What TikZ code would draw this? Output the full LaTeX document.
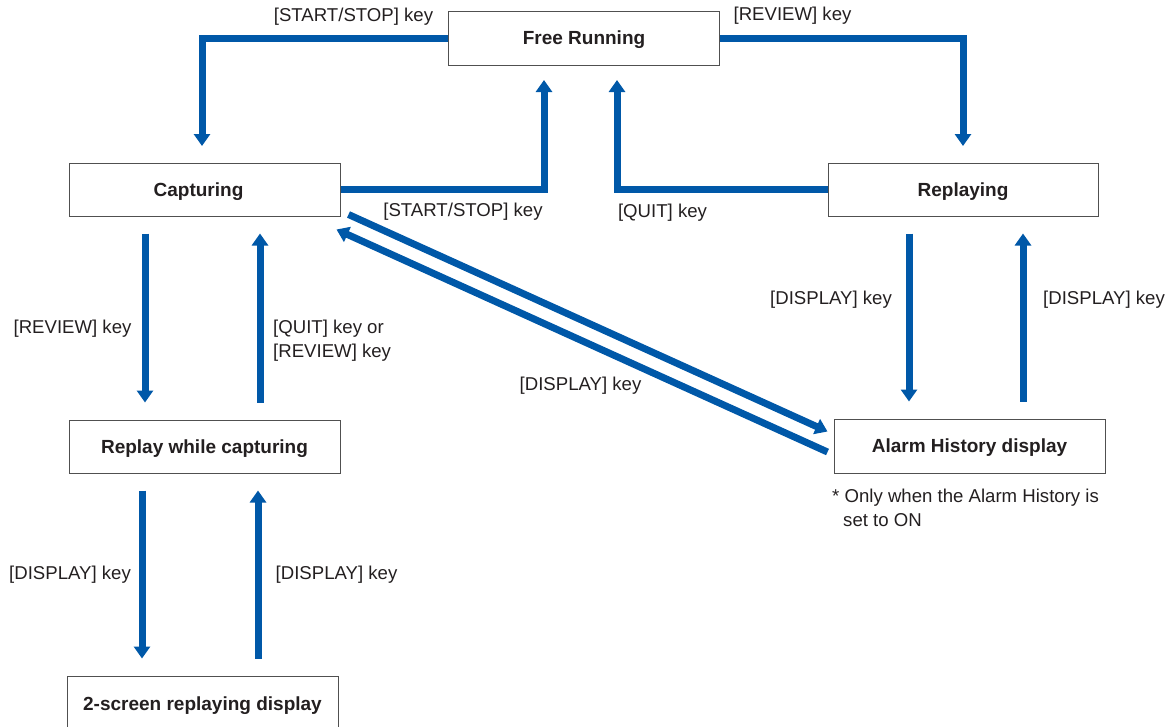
\documentclass[tikz,border=0pt]{standalone}
\usepackage{fontspec}
\setmainfont{Liberation Sans}
\usetikzlibrary{arrows.meta}
\definecolor{flowblue}{RGB}{0,88,168}
\definecolor{txt}{RGB}{35,31,32}
\definecolor{boxline}{RGB}{80,80,80}
\begin{document}
\begin{tikzpicture}[x=1pt,y=-1pt,
  state/.style={draw=boxline,line width=1pt,fill=white,minimum width=271pt,minimum height=54pt,
    inner sep=0pt,text height=16.6pt,text depth=3pt,text=txt,font=\fontsize{19}{22}\selectfont\bfseries},
  lbl/.style={inner sep=0pt,text=txt,font=\fontsize{18.6}{24}\selectfont},
  arr/.style={draw=flowblue,line width=7pt,-{Triangle[width=16pt,length=12pt]}}]
\useasboundingbox (0,0) rectangle (1174,726);
% states
\node[state] (free)  at (584,38)     {Free Running};
\node[state,minimum height=53pt] (cap)   at (204.5,189.5) {\hspace*{-12pt}Capturing};
\node[state,minimum height=53pt,minimum width=270pt] (rep)   at (963,189.5)   {Replaying};
\node[state,minimum height=53pt] (rwc)   at (204.5,446.5) {Replay while capturing};
\node[state] (alarm) at (969.5,446)   {Alarm History display};
\node[state,minimum height=55pt] (two)   at (202.5,703.5) {2-screen replaying display};
% free ends
\coordinate (c1) at (202,146);
\coordinate (c2) at (544,80);
\coordinate (c3) at (963,146);
\coordinate (c4) at (617,80);
% connectors
\draw[arr] (free.west) -| (c1);
\draw[arr] (cap.east) -| (c2);
\draw[arr] (free.east) -| (c3);
\draw[arr] (rep.west) -| (c4);
\draw[arr] ([xshift=-59.5pt,yshift=-17pt]cap.south) -- ([xshift=-59.5pt,yshift=17pt]rwc.north);
\draw[arr] ([xshift=55.5pt,yshift=17pt]rwc.north) -- ([xshift=55.5pt,yshift=-17pt]cap.south);
\draw[arr] ([xshift=-54pt,yshift=-17pt]rep.south) -- ([xshift=-60.5pt,yshift=17pt]alarm.north);
\draw[arr] ([xshift=53.5pt,yshift=17pt]alarm.north) -- ([xshift=60pt,yshift=-17pt]rep.south);
\draw[arr] ([xshift=-62.5pt,yshift=-17pt]rwc.south) -- ([xshift=-60.5pt,yshift=17pt]two.north);
\draw[arr] ([xshift=55.5pt,yshift=17pt]two.north) -- ([xshift=53.5pt,yshift=-17pt]rwc.south);
\draw[arr] ([xshift=8pt,yshift=2pt]cap.south east) -- ([xshift=-6pt,yshift=-13pt]alarm.north west);
\draw[arr] ([xshift=-6pt,yshift=-6pt]alarm.west) -- ([xshift=-4pt,yshift=-13pt]cap.south east);
% labels
\node[lbl] (l1) at (353.5,17) {[START/STOP] key};
\node[lbl] (l2) at (792.5,16) {[REVIEW] key};
\node[lbl] (l3) at (463,212) {[START/STOP] key};
\node[lbl] (l4) at (662.5,213) {[QUIT] key};
\node[lbl] (l5) at (72.5,329) {[REVIEW] key};
\node[lbl,anchor=west,align=left] (l6) at (273,341) {[QUIT] key or\\\relax[REVIEW] key};
\node[lbl] (l7) at (580.5,386) {[DISPLAY] key};
\node[lbl] (l8) at (831,300) {[DISPLAY] key};
\node[lbl] (l9) at (1104,300) {[DISPLAY] key};
\node[lbl] (l10) at (70,575) {[DISPLAY] key};
\node[lbl] (l11) at (336.5,575) {[DISPLAY] key};
\node[lbl,anchor=west,align=left] (note) at (832,507.5) {* Only when the Alarm History is\\\hspace*{11pt}set to ON};
\end{tikzpicture}
\end{document}
